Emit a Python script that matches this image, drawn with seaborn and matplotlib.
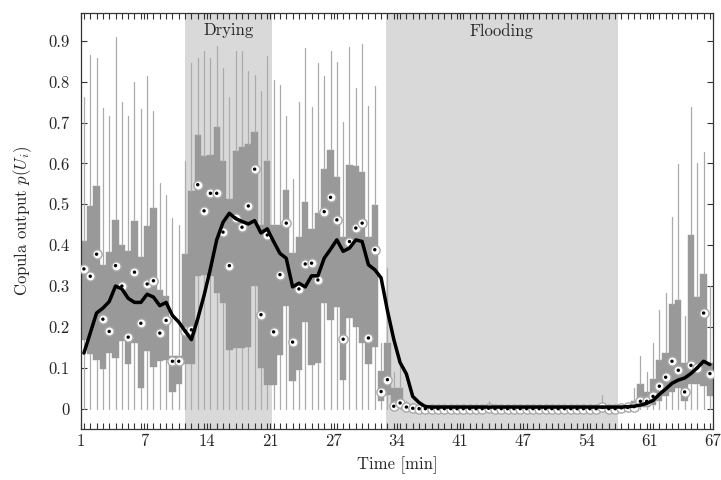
import numpy as np
import matplotlib
matplotlib.use("Agg")
import matplotlib.pyplot as plt
import seaborn as sns

# ---------------------------------------------------
# Data (one box per 40 s sample)
# ---------------------------------------------------

med = [
    0.342, 0.324, 0.378, 0.219, 0.189, 0.350, 0.300, 0.175, 0.334, 0.209,
    0.305, 0.313, 0.185, 0.216, 0.116, 0.116, 0.190, 0.193, 0.548, 0.484,
    0.527, 0.527, 0.432, 0.350, 0.466, 0.444, 0.496, 0.586, 0.230, 0.425,
    0.188, 0.328, 0.454, 0.163, 0.293, 0.354, 0.356, 0.315, 0.482, 0.517,
    0.462, 0.170, 0.409, 0.442, 0.454, 0.173, 0.389, 0.042, 0.071, 0.006,
    0.014, 0.004, 0.001, 0.000, 0.000, 0.000, 0.000, 0.000, 0.000, 0.000,
    0.000, 0.000, 0.000, 0.000, 0.001, 0.000, 0.000, 0.000, 0.000, 0.000,
    0.000, 0.000, 0.000, 0.000, 0.000, 0.000, 0.000, 0.000, 0.000, 0.000,
    0.000, 0.000, 0.003, 0.000, 0.000, 0.002, 0.003, 0.005, 0.018, 0.018,
    0.030, 0.055, 0.077, 0.116, 0.094, 0.041, 0.106, 0.100, 0.234, 0.086,
]

q3 = [
    0.411, 0.496, 0.544, 0.352, 0.383, 0.462, 0.401, 0.387, 0.458, 0.372,
    0.446, 0.492, 0.291, 0.276, 0.128, 0.128, 0.378, 0.533, 0.670, 0.619,
    0.620, 0.690, 0.606, 0.513, 0.630, 0.640, 0.647, 0.678, 0.450, 0.607,
    0.450, 0.450, 0.535, 0.380, 0.420, 0.506, 0.440, 0.479, 0.586, 0.633,
    0.568, 0.420, 0.597, 0.594, 0.580, 0.420, 0.499, 0.091, 0.161, 0.050,
    0.050, 0.010, 0.004, 0.003, 0.002, 0.002, 0.002, 0.002, 0.002, 0.002,
    0.002, 0.002, 0.002, 0.002, 0.004, 0.002, 0.002, 0.002, 0.002, 0.002,
    0.002, 0.002, 0.002, 0.002, 0.002, 0.002, 0.002, 0.002, 0.002, 0.002,
    0.002, 0.002, 0.006, 0.002, 0.002, 0.003, 0.008, 0.020, 0.060, 0.040,
    0.072, 0.118, 0.136, 0.255, 0.267, 0.112, 0.425, 0.273, 0.330, 0.112,
]

q1 = [
    0.169, 0.134, 0.120, 0.097, 0.136, 0.124, 0.165, 0.109, 0.161, 0.050,
    0.140, 0.103, 0.116, 0.120, 0.041, 0.061, 0.109, 0.109, 0.324, 0.328,
    0.324, 0.283, 0.258, 0.143, 0.148, 0.148, 0.150, 0.300, 0.100, 0.059,
    0.059, 0.132, 0.252, 0.067, 0.095, 0.213, 0.106, 0.112, 0.258, 0.218,
    0.250, 0.071, 0.223, 0.201, 0.161, 0.109, 0.150, 0.018, 0.034, 0.000,
    0.004, 0.000, 0.000, 0.000, 0.000, 0.000, 0.000, 0.000, 0.000, 0.000,
    0.000, 0.000, 0.000, 0.000, 0.000, 0.000, 0.000, 0.000, 0.000, 0.000,
    0.000, 0.000, 0.000, 0.000, 0.000, 0.000, 0.000, 0.000, 0.000, 0.000,
    0.000, 0.000, 0.000, 0.000, 0.000, 0.000, 0.000, 0.000, 0.003, 0.005,
    0.010, 0.020, 0.030, 0.040, 0.050, 0.020, 0.060, 0.060, 0.055, 0.030,
]

whisker_hi = [
    0.762, 0.866, 0.857, 0.735, 0.715, 0.909, 0.751, 0.715, 0.800, 0.733,
    0.814, 0.729, 0.553, 0.523, 0.466, 0.450, 0.605, 0.845, 0.857, 0.874,
    0.857, 0.888, 0.834, 0.762, 0.876, 0.876, 0.825, 0.817, 0.778, 0.864,
    0.803, 0.791, 0.715, 0.562, 0.750, 0.882, 0.738, 0.845, 0.813, 0.874,
    0.847, 0.701, 0.884, 0.784, 0.892, 0.741, 0.790, 0.160, 0.344, 0.090,
    0.110, 0.020, 0.006, 0.005, 0.005, 0.005, 0.005, 0.005, 0.005, 0.005,
    0.005, 0.005, 0.005, 0.005, 0.018, 0.005, 0.005, 0.005, 0.005, 0.005,
    0.005, 0.005, 0.005, 0.005, 0.005, 0.005, 0.005, 0.005, 0.005, 0.005,
    0.005, 0.005, 0.034, 0.005, 0.005, 0.005, 0.010, 0.050, 0.130, 0.090,
    0.160, 0.242, 0.283, 0.469, 0.598, 0.227, 0.738, 0.600, 0.629, 0.300,
]

whisker_lo = [0.0] * 100

# smoothed trend (black line)
trend = [
    0.136, 0.185, 0.234, 0.246, 0.262, 0.300, 0.293, 0.270, 0.260, 0.260,
    0.280, 0.273, 0.252, 0.260, 0.228, 0.212, 0.190, 0.169, 0.220, 0.277,
    0.342, 0.413, 0.456, 0.478, 0.465, 0.458, 0.452, 0.460, 0.430, 0.440,
    0.409, 0.380, 0.368, 0.298, 0.307, 0.298, 0.325, 0.325, 0.368, 0.390,
    0.413, 0.385, 0.393, 0.413, 0.409, 0.352, 0.340, 0.320, 0.240, 0.170,
    0.113, 0.085, 0.030, 0.015, 0.005, 0.004, 0.004, 0.004, 0.004, 0.004,
    0.004, 0.004, 0.004, 0.004, 0.004, 0.004, 0.004, 0.004, 0.004, 0.004,
    0.004, 0.004, 0.004, 0.004, 0.004, 0.004, 0.004, 0.004, 0.004, 0.004,
    0.004, 0.004, 0.004, 0.004, 0.004, 0.004, 0.005, 0.006, 0.009, 0.013,
    0.020, 0.035, 0.048, 0.062, 0.070, 0.075, 0.086, 0.100, 0.116, 0.108,
]

time_labels = ["1", "7", "14", "21", "27", "34", "41", "47", "54", "61", "67"]

drying_span = (16.0, 29.8)
flooding_span = (47.8, 84.4)

# ---------------------------------------------------
# Style
# ---------------------------------------------------

sns.set_style("ticks")
plt.rcParams["font.family"] = ["cmr10", "DejaVu Serif"]
plt.rcParams["mathtext.fontset"] = "cm"
plt.rcParams["axes.unicode_minus"] = False
plt.rcParams["axes.formatter.use_mathtext"] = True

fig = plt.figure(figsize=(7.21, 4.8), dpi=100)
ax = fig.add_axes([0.112, 0.106, 0.877, 0.866])

pos = np.arange(len(med))

# shaded phases
ax.axvspan(*drying_span, color="#d9d9d9", lw=0, zorder=0)
ax.axvspan(*flooding_span, color="#d9d9d9", lw=0, zorder=0)

# boxes
stats = [
    dict(med=m, q1=a, q3=b, whislo=lo, whishi=hi, fliers=[])
    for m, a, b, lo, hi in zip(med, q1, q3, whisker_lo, whisker_hi)
]

ax.bxp(
    stats,
    positions=pos,
    widths=1.0,
    patch_artist=True,
    showcaps=False,
    showfliers=False,
    manage_ticks=False,
    boxprops=dict(facecolor="#999999", edgecolor="#999999", linewidth=0.3),
    whiskerprops=dict(color="#ababab", linewidth=0.9),
    medianprops=dict(visible=False),
)

# medians
sns.scatterplot(
    x=pos, y=med, s=44, color="white",
    edgecolor="#a8a8a8", linewidth=1.0,
    zorder=4, ax=ax, legend=False
)
sns.scatterplot(
    x=pos, y=med, s=6, color="black",
    edgecolor="none", zorder=5, ax=ax, legend=False
)

# trend
sns.lineplot(x=pos, y=trend, color="black", linewidth=2.5, zorder=6, ax=ax)

# phase labels
ax.text(np.mean(drying_span), 0.925, "Drying", ha="center", va="center", fontsize=12)
ax.text(np.mean(flooding_span), 0.925, "Flooding", ha="center", va="center", fontsize=12)

# axes
ax.set_xlim(-0.5, 99.5)
ax.set_ylim(-0.05, 0.967)

ax.set_xticks(np.linspace(-0.5, 99.5, 11))
ax.set_xticklabels(time_labels)
ax.set_xticks(pos, minor=True)

yt = np.round(np.arange(0, 0.91, 0.1), 1)
ax.set_yticks(yt)
ax.set_yticklabels(["0"] + [f"{v:.1f}" for v in yt[1:]])

ax.tick_params(
    axis="both", which="both", direction="in",
    top=True, right=True, length=4, width=0.8,
    color="#333333", labelsize=12
)
ax.tick_params(axis="y", pad=8)

for s in ax.spines.values():
    s.set_color("#333333")
    s.set_linewidth(0.9)

ax.set_xlabel("Time [min]", fontsize=12, labelpad=5)
ax.set_ylabel(r"Copula output $p(U_i)$", fontsize=12, labelpad=10)

fig.savefig("out.png", dpi=100)
plt.close(fig)
